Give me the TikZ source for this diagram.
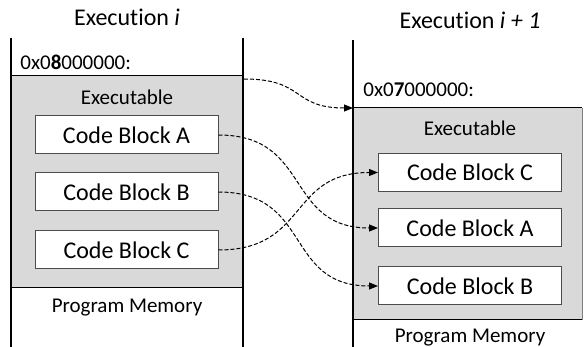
\documentclass[tikz,border=0pt]{standalone}
\usepackage{fontspec}
\setmainfont{Carlito}[Ligatures=NoCommon]
\usetikzlibrary{arrows.meta,positioning}

\tikzset{
  blockbox/.style={draw=black!70, fill=white, line width=0.5pt, inner sep=0pt,
    minimum width=91.5pt, minimum height=19pt, font=\fontsize{12}{14}\selectfont},
  lbl/.style={font=\fontsize{10.5}{12}\selectfont, inner sep=0pt},
  ttl/.style={font=\fontsize{12}{14}\selectfont, inner sep=0pt},
  wall/.style={line width=1pt},
  move/.style={dashed, dash pattern=on 2pt off 1pt, line width=0.5pt,
    -{Triangle[length=4.5pt,width=3.5pt]}},
}

\begin{document}
\begin{tikzpicture}[x=0.5pt, y=-0.5pt]
  \useasboundingbox (0,0) rectangle (584,347);

  %% ── Execution i ───────────────────────────────────────────
  \node[ttl] (ttlA) at (127,17) {Execution \textit{i}};
  \fill[black!15] (11,76) rectangle (243,288);
  \draw[line width=0.5pt] (11,76) -- (243,76);
  \draw[line width=0.5pt] (11,288) -- (243,288);
  \draw[wall] (11,38) -- (11,347);
  \draw[wall] (243,38) -- (243,347);
  \node[lbl, anchor=west] (addrA) at (20,62) {0x0\textbf{8}000000:};
  \node[lbl] (exeA) at (127,97) {Executable};
  \node[blockbox] (blkAi) at (126.5,135) {Code Block A};
  \node[blockbox] (blkBi) at (126.5,192) {Code Block B};
  \node[blockbox] (blkCi) at (126.5,250) {Code Block C};
  \node[lbl] (memA) at (127,308) {Program Memory};

  %% ── Execution i+1 ─────────────────────────────────────────
  \node[ttl] (ttlB) at (470,20) {Execution \textit{i + 1}};
  \fill[black!15] (353,108) rectangle (582,320);
  \draw[black!50, line width=0.5pt] (582,108) -- (582,320);
  \draw[line width=0.5pt] (353,108) -- (582,108);
  \draw[line width=0.5pt] (353,320) -- (582,320);
  \draw[wall] (353,40) -- (353,347);
  \node[lbl, anchor=west] (addrB) at (363,90) {0x0\textbf{7}000000:};
  \node[lbl] (exeB) at (470,128) {Executable};
  \node[blockbox] (blkCn) at (470,172.5) {Code Block C};
  \node[blockbox] (blkAn) at (470,228) {Code Block A};
  \node[blockbox] (blkBn) at (470,286) {Code Block B};
  \node[lbl] (memB) at (470,338) {Program Memory};

  %% ── Relocation arrows ─────────────────────────────────────
  \coordinate (baseA) at (244,79);
  \coordinate (baseB) at (353,108);
  \draw[move] (baseA) to[out=0, in=180, looseness=1.4] (baseB);
  \draw[move] (blkAi.east) to[out=0, in=180, looseness=1.3] (blkAn.west);
  \draw[move] (blkBi.east) to[out=0, in=180, looseness=1.3] (blkBn.west);
  \draw[move] (blkCi.east) to[out=0, in=180, looseness=1.3] (blkCn.west);
\end{tikzpicture}
\end{document}
